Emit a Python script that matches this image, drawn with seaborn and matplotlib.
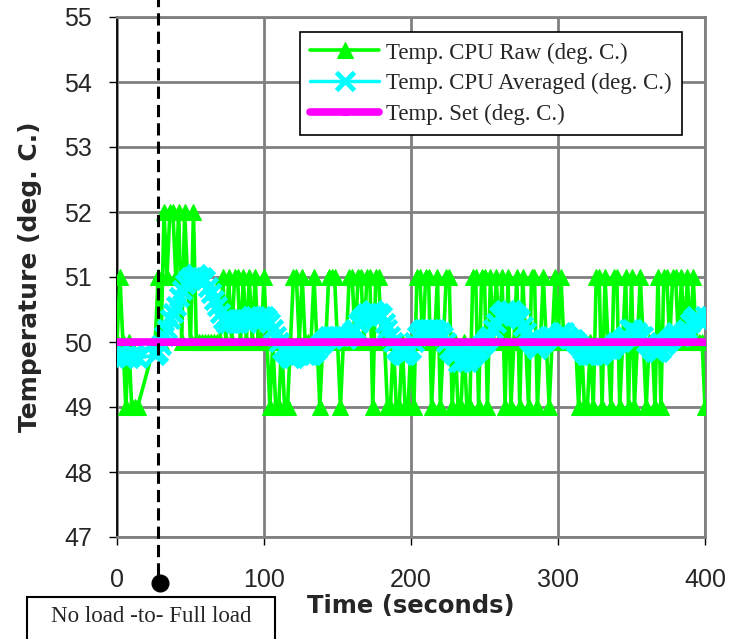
import matplotlib
matplotlib.use("Agg")
import matplotlib.pyplot as plt
from matplotlib.patches import Rectangle
import numpy as np
import pandas as pd
import seaborn as sns

# ---------------- data ----------------
# sampling: every 2 s, with a logging gap between 14 s and 26 s
times = list(range(0, 15, 2)) + list(range(26, 401, 2))

raw_temp = [
    50, 51, 50, 49, 50, 49, 49, 49,
    50, 51, 50, 52, 51, 52, 52, 51, 52, 50,
    52, 51, 50, 52, 50, 50, 50, 50, 50, 50,
    50, 50, 50, 51, 50, 51, 50, 51, 51, 50,
    51, 50, 51, 50, 51, 50, 50, 51, 50, 49,
    50, 49, 49, 50, 49, 49, 50, 51, 51, 50,
    51, 50, 50, 50, 51, 50, 49, 50, 50, 51,
    51, 51, 50, 49, 50, 50, 51, 51, 50, 51,
    51, 50, 51, 51, 49, 51, 51, 50, 50, 49,
    49, 50, 49, 49, 50, 49, 49, 50, 49, 51,
    51, 50, 51, 51, 49, 50, 51, 49, 50, 51,
    51, 49, 50, 49, 49, 50, 49, 49, 51, 51,
    49, 51, 51, 49, 51, 50, 51, 50, 51, 49,
    51, 49, 50, 51, 49, 51, 50, 49, 51, 51,
    49, 50, 51, 50, 49, 50, 51, 50, 51, 50,
    50, 50, 50, 50, 49, 50, 49, 49, 50, 49,
    51, 51, 49, 51, 50, 49, 51, 51, 49, 50,
    51, 49, 51, 49, 50, 51, 50, 49, 50, 50,
    49, 51, 49, 51, 51, 50, 51, 51, 50, 51,
    50, 51, 50, 51, 50, 50, 50, 49,
]

avg_temp = [
    49.8, 49.8, 49.75, 49.8, 49.75, 49.8, 49.8, 49.75,
    49.8, 49.85, 49.95, 50.1, 50.2, 50.35, 50.45, 50.55, 50.7, 50.8,
    50.9, 50.95, 51.0, 51.0, 51.05, 51.0, 51.0, 50.95, 50.85, 50.75,
    50.65, 50.55, 50.45, 50.35, 50.3, 50.3, 50.35, 50.3, 50.3, 50.35,
    50.35, 50.3, 50.35, 50.4, 50.4, 50.35, 50.4, 50.4, 50.35, 50.3,
    50.2, 50.1, 50.0, 49.9, 49.85, 49.8, 49.75, 49.75, 49.8, 49.8,
    49.85, 49.8, 49.8, 49.8, 49.85, 49.9, 49.95, 50.0, 50.05, 50.1,
    50.1, 50.1, 50.1, 50.1, 50.1, 50.05, 50.1, 50.15, 50.2, 50.3,
    50.35, 50.4, 50.45, 50.45, 50.5, 50.45, 50.45, 50.4, 50.3, 50.2,
    50.1, 50.0, 49.9, 49.85, 49.8, 49.8, 49.85, 49.9, 50.0, 50.1,
    50.15, 50.2, 50.2, 50.2, 50.2, 50.2, 50.15, 50.15, 50.1, 50.0,
    49.9, 49.85, 49.8, 49.7, 49.7, 49.75, 49.7, 49.75, 49.8, 49.85,
    49.9, 49.95, 50.0, 50.05, 50.1, 50.2, 50.3, 50.4, 50.45, 50.5,
    50.45, 50.5, 50.45, 50.4, 50.35, 50.25, 50.15, 50.05, 50.0, 49.95,
    49.9, 49.95, 50.0, 50.05, 50.1, 50.1, 50.05, 50.1, 50.15, 50.15,
    50.1, 50.05, 50.05, 50.0, 49.95, 49.9, 49.85, 49.8, 49.8, 49.8,
    49.85, 49.8, 49.85, 49.9, 49.9, 49.9, 49.95, 50.0, 50.0, 50.05,
    50.1, 50.2, 50.2, 50.15, 50.15, 50.1, 50.1, 50.0, 49.95, 49.9,
    49.85, 49.85, 49.9, 49.95, 50.0, 50.05, 50.1, 50.15, 50.1, 50.1,
    50.15, 50.2, 50.3, 50.35, 50.4, 50.35, 50.3, 50.4,
]

SET_TEMP = 50.0
set_temp = [SET_TEMP] * len(times)

series_labels = ["Temp. CPU Raw (deg. C.)",
                 "Temp. CPU Averaged (deg. C.)",
                 "Temp. Set (deg. C.)"]
x_ticks = [0, 100, 200, 300, 400]
y_ticks = [47, 48, 49, 50, 51, 52, 53, 54, 55]
LOAD_CHANGE_T = 28
annotation_text = "No load -to- Full load"

df = pd.DataFrame({"time": times, "raw": raw_temp, "avg": avg_temp, "set": set_temp})

# ---------------- style ----------------
sns.set_theme(style="white")
plt.rcParams["font.family"] = ["Liberation Sans", "DejaVu Sans"]

W, H = 729, 639
fig = plt.figure(figsize=(W / 100, H / 100), dpi=100)
L, R, T, B = 117, 705, 17, 537
ax = fig.add_axes([L / W, 1 - B / H, (R - L) / W, (B - T) / H])

sns.lineplot(data=df, x="time", y="raw", ax=ax, color="#00FF00", lw=2.6,
             marker="^", markersize=12, markeredgecolor="#00FF00",
             estimator=None, sort=False, label=series_labels[0], zorder=3)
sns.lineplot(data=df, x="time", y="avg", ax=ax, color="#00FFFF", lw=2.5,
             marker="x", markersize=13, markeredgewidth=3.5, markeredgecolor="#00FFFF",
             estimator=None, sort=False, label=series_labels[1], zorder=4)
sns.lineplot(data=df, x="time", y="set", ax=ax, color="#FF00FF", lw=5.5,
             marker="s", markersize=5, markeredgecolor="#FF00FF",
             estimator=None, sort=False, label=series_labels[2], zorder=5)

ax.set_xlim(0, 400)
ax.set_ylim(47, 55)
ax.set_xticks(x_ticks)
ax.set_yticks(y_ticks)
ax.grid(True, color="#808080", lw=2)
ax.set_axisbelow(True)
for s in ["top", "right", "bottom"]:
    ax.spines[s].set_color("#808080")
    ax.spines[s].set_linewidth(2)
ax.spines["left"].set_color("black")
ax.spines["left"].set_linewidth(1.3)

ax.tick_params(axis="x", bottom=True, direction="out", length=6, width=1,
               color="black", pad=16, labelsize=18)
ax.tick_params(axis="y", left=True, direction="out", length=6, width=1,
               color="black", pad=12, labelsize=18)

ax.set_xlabel("Time (seconds)", fontsize=17.5, fontweight="bold", family="DejaVu Sans")
ax.set_ylabel("Temperature (deg. C.)", fontsize=18, fontweight="bold", family="DejaVu Sans")
ax.xaxis.set_label_coords(0.5, -0.11)
ax.yaxis.set_label_coords(-0.128, 0.5)

# load change marker
ax.plot([LOAD_CHANGE_T, LOAD_CHANGE_T], [46.42, 55.3], color="black", lw=2.2,
        ls=(0, (4, 2)), clip_on=False, zorder=10)
ax.plot([LOAD_CHANGE_T + 1.3], [46.3], "o", color="black", ms=12, clip_on=False, zorder=10)

leg = ax.legend(loc="upper left", bbox_to_anchor=(300 / W, 1 - 32 / H),
                bbox_transform=fig.transFigure, frameon=True, fancybox=False,
                edgecolor="black", framealpha=1,
                prop={"family": "Liberation Serif", "size": 16.5},
                handlelength=3.0, borderaxespad=0, borderpad=0.45,
                labelspacing=0.42, handletextpad=0.3)
leg.get_frame().set_linewidth(1.2)
leg.set_zorder(20)

fig.patches.append(Rectangle((27 / W, -0.05), (275 - 27) / W, (1 - 597 / H) + 0.05,
                             transform=fig.transFigure, fill=False, ec="black", lw=1.5))
fig.text((27 + 275) / 2 / W, 1 - 617 / H, annotation_text, ha="center", va="center",
         family="Liberation Serif", fontsize=16.5)

fig.savefig("out.png", dpi=100)
